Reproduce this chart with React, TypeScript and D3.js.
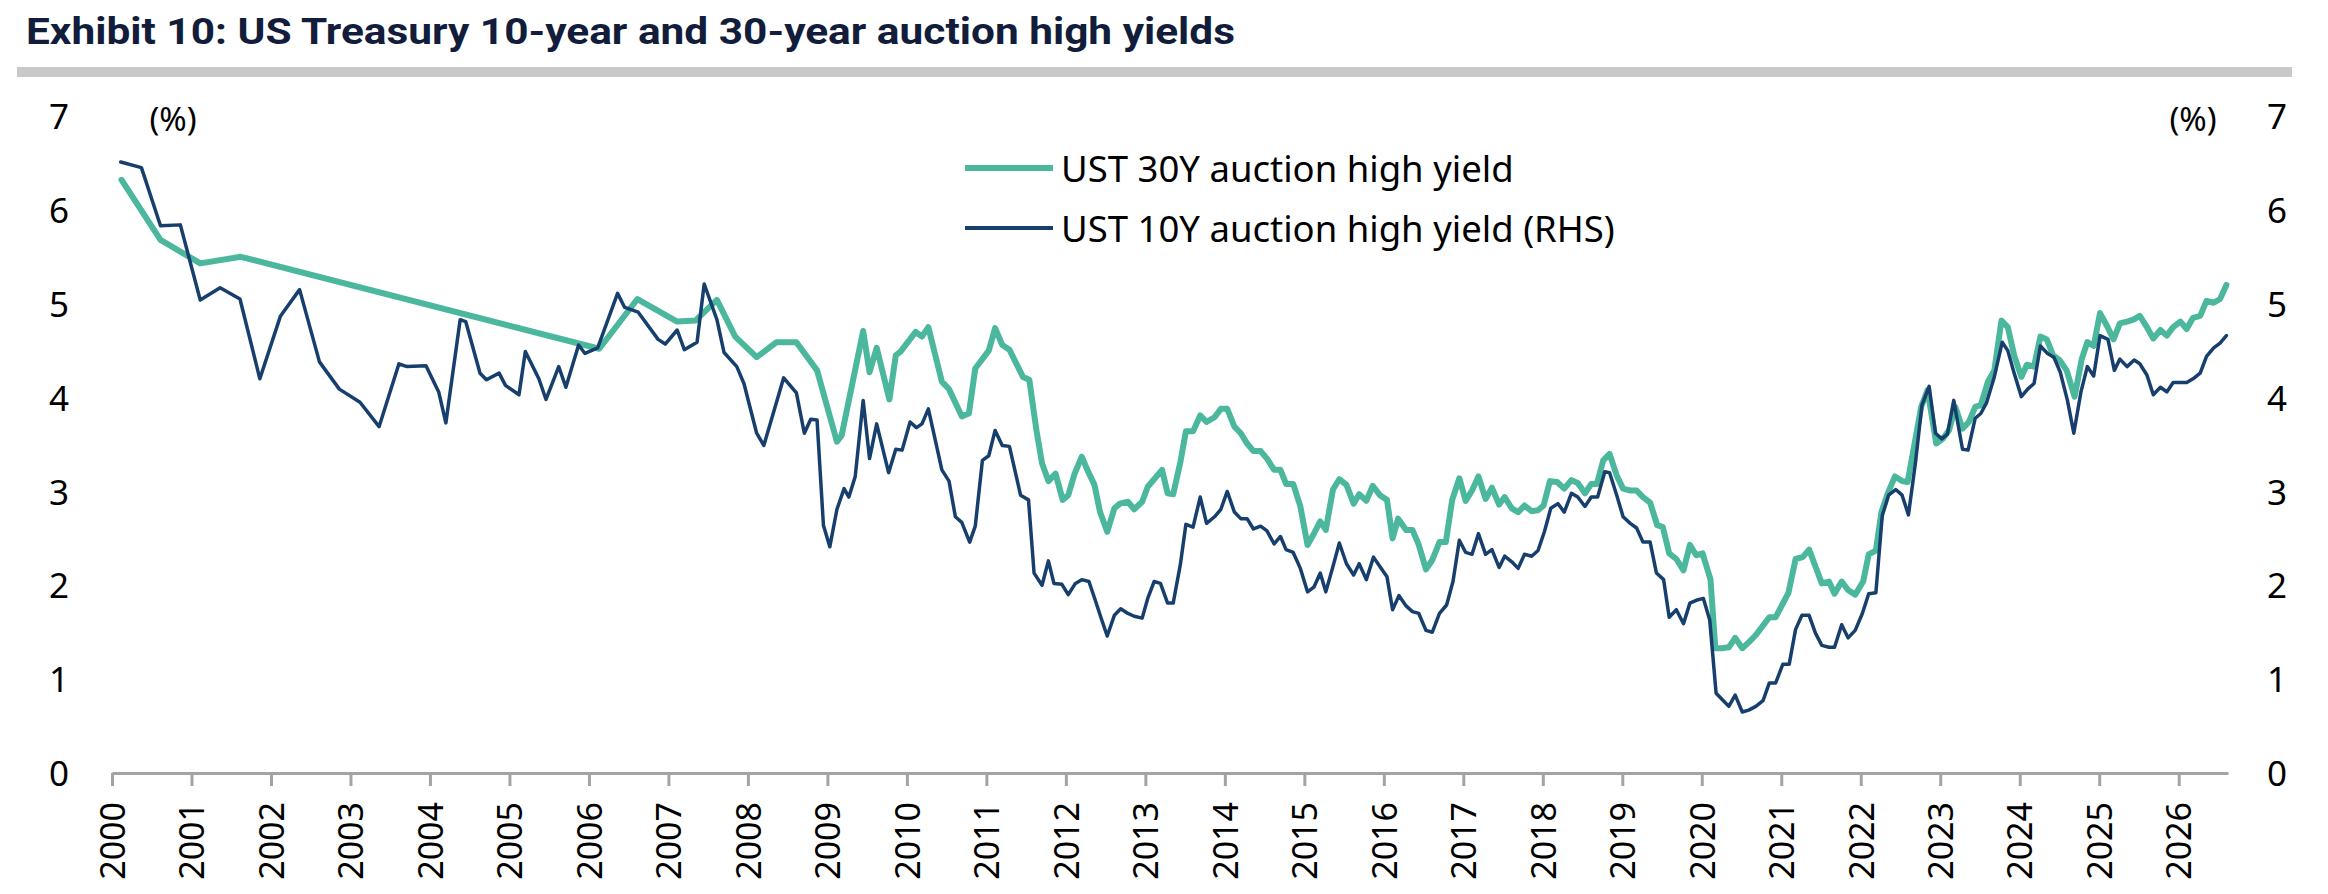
import React, { useEffect, useRef } from 'react';
import * as d3 from 'd3';

const titleText = 'Exhibit 10: US Treasury 10-year and 30-year auction high yields';
const seriesNames = ['UST 30Y auction high yield', 'UST 10Y auction high yield (RHS)'];
const xTickValues = d3.range(2000, 2027);
const xTickLabels = xTickValues.map((d) => String(d));
const yTickValues = [0, 1, 2, 3, 4, 5, 6, 7];
const yTickLabels = ['0', '1', '2', '3', '4', '5', '6', '7'];

// UST 10Y auction high yield (decimal year, %)
const t10Dates = [
  2000.11, 2000.37, 2000.61, 2000.86, 2001.11, 2001.36, 2001.61, 2001.86, 2002.12, 2002.36, 2002.61, 2002.86,
  2003.12, 2003.36, 2003.61, 2003.71, 2003.95, 2004.11, 2004.20, 2004.38, 2004.45, 2004.63, 2004.71, 2004.87,
  2004.95, 2005.12, 2005.20, 2005.37, 2005.46, 2005.62, 2005.71, 2005.87, 2005.95, 2006.11, 2006.36, 2006.45,
  2006.62, 2006.87, 2006.96, 2007.11, 2007.20, 2007.36, 2007.45, 2007.61, 2007.70, 2007.86, 2007.95, 2008.11,
  2008.20, 2008.45, 2008.61, 2008.71, 2008.79, 2008.87, 2008.95, 2009.03, 2009.12, 2009.21, 2009.27, 2009.35,
  2009.45, 2009.53, 2009.62, 2009.77, 2009.86, 2009.94, 2010.04, 2010.12, 2010.19, 2010.27, 2010.44, 2010.53,
  2010.61, 2010.69, 2010.79, 2010.86, 2010.95, 2011.03, 2011.11, 2011.20, 2011.29, 2011.43, 2011.53, 2011.60,
  2011.70, 2011.78, 2011.85, 2011.95, 2012.03, 2012.12, 2012.20, 2012.29, 2012.37, 2012.44, 2012.52, 2012.61,
  2012.69, 2012.78, 2012.86, 2012.96, 2013.03, 2013.11, 2013.19, 2013.28, 2013.35, 2013.44, 2013.51, 2013.60,
  2013.69, 2013.77, 2013.87, 2013.95, 2014.03, 2014.12, 2014.20, 2014.28, 2014.36, 2014.45, 2014.53, 2014.62,
  2014.70, 2014.77, 2014.86, 2014.95, 2015.04, 2015.12, 2015.20, 2015.27, 2015.36, 2015.44, 2015.53, 2015.62,
  2015.69, 2015.78, 2015.87, 2015.95, 2016.04, 2016.11, 2016.19, 2016.28, 2016.36, 2016.44, 2016.53, 2016.61,
  2016.70, 2016.79, 2016.87, 2016.95, 2017.03, 2017.11, 2017.19, 2017.28, 2017.36, 2017.45, 2017.52, 2017.61,
  2017.69, 2017.77, 2017.86, 2017.94, 2018.02, 2018.10, 2018.19, 2018.27, 2018.36, 2018.44, 2018.53, 2018.61,
  2018.69, 2018.78, 2018.84, 2018.93, 2019.01, 2019.10, 2019.18, 2019.26, 2019.35, 2019.43, 2019.52, 2019.59,
  2019.68, 2019.77, 2019.85, 2019.93, 2020.02, 2020.10, 2020.18, 2020.26, 2020.34, 2020.42, 2020.51, 2020.59,
  2020.68, 2020.77, 2020.85, 2020.93, 2021.02, 2021.10, 2021.18, 2021.26, 2021.35, 2021.43, 2021.51, 2021.60,
  2021.67, 2021.76, 2021.84, 2021.93, 2022.02, 2022.10, 2022.19, 2022.27, 2022.35, 2022.44, 2022.52, 2022.60,
  2022.69, 2022.77, 2022.86, 2022.94, 2023.02, 2023.09, 2023.17, 2023.28, 2023.35, 2023.44, 2023.51, 2023.58,
  2023.68, 2023.78, 2023.85, 2023.93, 2024.02, 2024.10, 2024.18, 2024.26, 2024.35, 2024.43, 2024.51, 2024.60,
  2024.68, 2024.77, 2024.85, 2024.93, 2025.01, 2025.11, 2025.19, 2025.26, 2025.35, 2025.44, 2025.51, 2025.60,
  2025.68, 2025.77, 2025.85, 2025.93, 2026.02, 2026.10, 2026.18, 2026.27, 2026.35, 2026.44, 2026.52, 2026.60,
];
const t10Values = [
  6.51, 6.45, 5.83, 5.84, 5.04, 5.17, 5.05, 4.20, 4.87, 5.15, 4.38, 4.09,
  3.95, 3.69, 4.36, 4.33, 4.34, 4.06, 3.73, 4.83, 4.81, 4.26, 4.19, 4.26,
  4.13, 4.03, 4.49, 4.20, 3.98, 4.33, 4.11, 4.56, 4.47, 4.53, 5.11, 4.96,
  4.91, 4.62, 4.57, 4.72, 4.51, 4.59, 5.21, 4.83, 4.48, 4.33, 4.15, 3.62,
  3.49, 4.21, 4.05, 3.62, 3.77, 3.76, 2.64, 2.41, 2.81, 3.03, 2.94, 3.16,
  3.97, 3.35, 3.72, 3.20, 3.45, 3.44, 3.74, 3.68, 3.72, 3.88, 3.23, 3.11,
  2.73, 2.67, 2.46, 2.63, 3.33, 3.38, 3.65, 3.49, 3.48, 2.96, 2.91, 2.13,
  2.00, 2.26, 2.02, 2.01, 1.90, 2.02, 2.06, 2.04, 1.84, 1.66, 1.46, 1.68,
  1.75, 1.70, 1.67, 1.65, 1.86, 2.04, 2.02, 1.81, 1.81, 2.22, 2.65, 2.62,
  2.94, 2.66, 2.73, 2.81, 3.00, 2.78, 2.71, 2.71, 2.60, 2.63, 2.58, 2.44,
  2.52, 2.38, 2.35, 2.18, 1.93, 1.98, 2.13, 1.93, 2.20, 2.45, 2.23, 2.11,
  2.23, 2.06, 2.30, 2.20, 2.09, 1.74, 1.89, 1.78, 1.72, 1.70, 1.52, 1.50,
  1.70, 1.79, 2.04, 2.48, 2.35, 2.33, 2.55, 2.33, 2.38, 2.19, 2.31, 2.25,
  2.18, 2.33, 2.31, 2.37, 2.57, 2.82, 2.87, 2.78, 2.98, 2.94, 2.84, 2.94,
  2.94, 3.21, 3.20, 2.96, 2.73, 2.66, 2.61, 2.46, 2.46, 2.13, 2.06, 1.66,
  1.74, 1.59, 1.81, 1.84, 1.86, 1.63, 0.85, 0.78, 0.71, 0.83, 0.65, 0.67,
  0.71, 0.77, 0.96, 0.96, 1.16, 1.16, 1.53, 1.68, 1.68, 1.49, 1.36, 1.34,
  1.34, 1.58, 1.44, 1.52, 1.70, 1.91, 1.92, 2.74, 2.96, 3.02, 2.96, 2.75,
  3.32, 3.92, 4.12, 3.62, 3.56, 3.61, 3.97, 3.45, 3.44, 3.78, 3.83, 3.94,
  4.22, 4.59, 4.50, 4.26, 4.01, 4.09, 4.15, 4.55, 4.47, 4.43, 4.27, 3.97,
  3.62, 4.06, 4.33, 4.23, 4.66, 4.62, 4.29, 4.41, 4.33, 4.40, 4.36, 4.24,
  4.03, 4.11, 4.06, 4.16, 4.16, 4.16, 4.20, 4.26, 4.44, 4.53, 4.58, 4.66,
];

// UST 30Y auction high yield (decimal year, %)
const t30Dates = [
  2000.12, 2000.61, 2001.11, 2001.62, 2006.13, 2006.61, 2007.11, 2007.34, 2007.61, 2007.84, 2008.11, 2008.36,
  2008.61, 2008.87, 2009.12, 2009.18, 2009.45, 2009.53, 2009.62, 2009.78, 2009.86, 2009.92, 2010.11, 2010.19,
  2010.27, 2010.44, 2010.53, 2010.69, 2010.78, 2010.86, 2011.03, 2011.11, 2011.20, 2011.29, 2011.46, 2011.54,
  2011.63, 2011.70, 2011.78, 2011.87, 2011.96, 2012.03, 2012.11, 2012.20, 2012.27, 2012.36, 2012.43, 2012.52,
  2012.61, 2012.68, 2012.78, 2012.86, 2012.96, 2013.03, 2013.11, 2013.21, 2013.28, 2013.35, 2013.44, 2013.51,
  2013.60, 2013.69, 2013.77, 2013.87, 2013.95, 2014.03, 2014.12, 2014.20, 2014.28, 2014.36, 2014.45, 2014.53,
  2014.62, 2014.70, 2014.77, 2014.86, 2014.95, 2015.04, 2015.12, 2015.20, 2015.27, 2015.36, 2015.44, 2015.53,
  2015.62, 2015.69, 2015.78, 2015.86, 2015.95, 2016.04, 2016.11, 2016.18, 2016.28, 2016.36, 2016.44, 2016.53,
  2016.61, 2016.70, 2016.78, 2016.86, 2016.95, 2017.03, 2017.11, 2017.19, 2017.28, 2017.36, 2017.45, 2017.52,
  2017.61, 2017.69, 2017.77, 2017.86, 2017.94, 2018.01, 2018.09, 2018.18, 2018.27, 2018.36, 2018.44, 2018.53,
  2018.61, 2018.68, 2018.76, 2018.84, 2018.93, 2019.01, 2019.10, 2019.18, 2019.26, 2019.35, 2019.44, 2019.51,
  2019.59, 2019.68, 2019.77, 2019.85, 2019.93, 2020.01, 2020.11, 2020.17, 2020.25, 2020.34, 2020.42, 2020.51,
  2020.60, 2020.68, 2020.76, 2020.85, 2020.93, 2021.01, 2021.09, 2021.18, 2021.27, 2021.35, 2021.43, 2021.51,
  2021.60, 2021.67, 2021.76, 2021.84, 2021.93, 2022.03, 2022.10, 2022.19, 2022.26, 2022.34, 2022.43, 2022.52,
  2022.59, 2022.76, 2022.84, 2022.95, 2023.03, 2023.11, 2023.19, 2023.28, 2023.36, 2023.44, 2023.51, 2023.60,
  2023.68, 2023.77, 2023.85, 2023.93, 2024.02, 2024.09, 2024.18, 2024.26, 2024.34, 2024.42, 2024.50, 2024.59,
  2024.69, 2024.78, 2024.85, 2024.93, 2025.01, 2025.10, 2025.18, 2025.26, 2025.35, 2025.43, 2025.51, 2025.60,
  2025.68, 2025.77, 2025.85, 2025.93, 2026.02, 2026.10, 2026.18, 2026.27, 2026.35, 2026.44, 2026.52, 2026.60,
];
const t30Values = [
  6.32, 5.68, 5.43, 5.50, 4.52, 5.05, 4.81, 4.82, 5.04, 4.65, 4.43, 4.59,
  4.59, 4.29, 3.53, 3.60, 4.71, 4.27, 4.53, 3.98, 4.45, 4.49, 4.70, 4.65,
  4.75, 4.17, 4.09, 3.80, 3.83, 4.31, 4.50, 4.74, 4.56, 4.51, 4.22, 4.19,
  3.65, 3.30, 3.11, 3.19, 2.91, 2.96, 3.19, 3.37, 3.23, 3.07, 2.78, 2.57,
  2.82, 2.87, 2.89, 2.81, 2.89, 3.05, 3.13, 3.23, 2.98, 2.97, 3.31, 3.64,
  3.64, 3.81, 3.74, 3.79, 3.88, 3.88, 3.69, 3.62, 3.51, 3.43, 3.43, 3.35,
  3.23, 3.23, 3.08, 3.08, 2.84, 2.43, 2.55, 2.68, 2.59, 3.02, 3.13, 3.07,
  2.87, 2.97, 2.90, 3.06, 2.96, 2.91, 2.50, 2.71, 2.59, 2.59, 2.43, 2.17,
  2.27, 2.46, 2.46, 2.91, 3.14, 2.90, 3.01, 3.16, 2.92, 3.04, 2.86, 2.94,
  2.82, 2.78, 2.85, 2.79, 2.80, 2.85, 3.11, 3.10, 3.03, 3.12, 3.09, 2.98,
  3.08, 3.08, 3.33, 3.40, 3.17, 3.03, 3.01, 3.01, 2.94, 2.88, 2.64, 2.62,
  2.34, 2.28, 2.16, 2.43, 2.32, 2.34, 2.06, 1.33, 1.33, 1.34, 1.44, 1.33,
  1.40, 1.47, 1.56, 1.66, 1.66, 1.79, 1.92, 2.28, 2.30, 2.38, 2.20, 2.02,
  2.04, 1.91, 2.04, 1.95, 1.90, 2.04, 2.33, 2.37, 2.78, 2.98, 3.16, 3.11,
  3.10, 3.90, 4.08, 3.51, 3.56, 3.65, 3.90, 3.67, 3.74, 3.90, 3.92, 4.17,
  4.29, 4.82, 4.75, 4.45, 4.22, 4.35, 4.33, 4.65, 4.62, 4.45, 4.40, 4.29,
  4.01, 4.41, 4.59, 4.55, 4.90, 4.76, 4.62, 4.79, 4.81, 4.83, 4.87, 4.75,
  4.63, 4.72, 4.66, 4.75, 4.81, 4.73, 4.85, 4.87, 5.03, 5.01, 5.05, 5.20,
];

const W = 2328;
const H = 894;
const TEAL = '#4bb79c';
const NAVY = '#173f6e';
const FONT = "'Noto Sans', 'Open Sans', sans-serif";

export default function App() {
  const ref = useRef<SVGSVGElement | null>(null);

  useEffect(() => {
    const svg = d3.select(ref.current);
    svg.selectAll('*').remove();

    const x = d3.scaleLinear().domain([2000, 2026.62]).range([112, 2228]);
    const y = d3.scaleLinear().domain([0, 7]).range([773, 116]);

    svg.append('rect').attr('width', W).attr('height', H).attr('fill', '#ffffff');

    // Title
    svg
      .append('text')
      .attr('x', 26)
      .attr('y', 44)
      .attr('font-family', 'Roboto, sans-serif')
      .attr('font-weight', 700)
      .attr('font-size', 37)
      .attr('fill', '#121d3b')
      .attr('textLength', 1209)
      .attr('lengthAdjust', 'spacingAndGlyphs')
      .text(titleText);
    svg.append('rect').attr('x', 17).attr('y', 67).attr('width', 2275).attr('height', 10).attr('fill', '#c9c9c9');

    // X axis
    const xAxis = d3
      .axisBottom(x)
      .tickValues(xTickValues)
      .tickSize(13)
      .tickSizeOuter(0)
      .tickFormat((_d, i) => xTickLabels[i]);
    const gx = svg.append('g').attr('transform', 'translate(0,773)').call(xAxis);
    gx.select('.domain').attr('stroke', '#a3a3a3').attr('stroke-width', 3);
    gx.selectAll('.tick line').attr('stroke', '#a3a3a3').attr('stroke-width', 3);
    gx.selectAll('.tick text')
      .attr('font-family', FONT)
      .attr('font-size', 34)
      .attr('fill', '#000')
      .attr('transform', 'rotate(-90)')
      .attr('text-anchor', 'end')
      .attr('x', -29)
      .attr('y', 0)
      .attr('dy', '0.36em');

    // Y axes (left and right, same scale)
    const makeY = (xpos: number) => {
      const ax = d3
        .axisLeft(y)
        .tickValues(yTickValues)
        .tickSize(0)
        .tickFormat((_d, i) => yTickLabels[i]);
      const g = svg.append('g').attr('transform', `translate(${xpos},0)`).call(ax);
      g.select('.domain').remove();
      g.selectAll('.tick text')
        .attr('font-family', FONT)
        .attr('font-size', 35)
        .attr('fill', '#000')
        .attr('text-anchor', 'middle')
        .attr('x', 0)
        .attr('dy', '0.36em');
    };
    makeY(59);
    makeY(2277);

    // unit labels
    [173, 2193].forEach((ux) => {
      svg
        .append('text')
        .attr('x', ux)
        .attr('y', 131)
        .attr('text-anchor', 'middle')
        .attr('font-family', FONT)
        .attr('font-size', 33)
        .attr('fill', '#000')
        .text('(%)');
    });

    // Lines
    const line = d3
      .line<[number, number]>()
      .x((d) => x(d[0]))
      .y((d) => y(d[1]));
    const d30 = t30Dates.map((d, i) => [d, t30Values[i]] as [number, number]);
    const d10 = t10Dates.map((d, i) => [d, t10Values[i]] as [number, number]);

    svg
      .append('path')
      .attr('d', line(d30))
      .attr('fill', 'none')
      .attr('stroke', TEAL)
      .attr('stroke-width', 6)
      .attr('stroke-linejoin', 'round')
      .attr('stroke-linecap', 'round');
    svg
      .append('path')
      .attr('d', line(d10))
      .attr('fill', 'none')
      .attr('stroke', NAVY)
      .attr('stroke-width', 3.5)
      .attr('stroke-linejoin', 'round')
      .attr('stroke-linecap', 'round');

    // Legend
    const legend = [
      { name: seriesNames[0], color: TEAL, width: 6, y: 168 },
      { name: seriesNames[1], color: NAVY, width: 4, y: 228 },
    ];
    legend.forEach((l) => {
      svg
        .append('line')
        .attr('x1', 965)
        .attr('x2', 1053)
        .attr('y1', l.y)
        .attr('y2', l.y)
        .attr('stroke', l.color)
        .attr('stroke-width', l.width);
      svg
        .append('text')
        .attr('x', 1061)
        .attr('y', l.y + 14)
        .attr('font-family', FONT)
        .attr('font-size', 36.5)
        .attr('fill', '#000')
        .text(l.name);
    });
  }, []);

  return (
    <svg
      ref={ref}
      width={W}
      height={H}
      viewBox={`0 0 ${W} ${H}`}
      style={{ position: 'absolute', left: 0, top: 0, display: 'block' }}
    />
  );
}
